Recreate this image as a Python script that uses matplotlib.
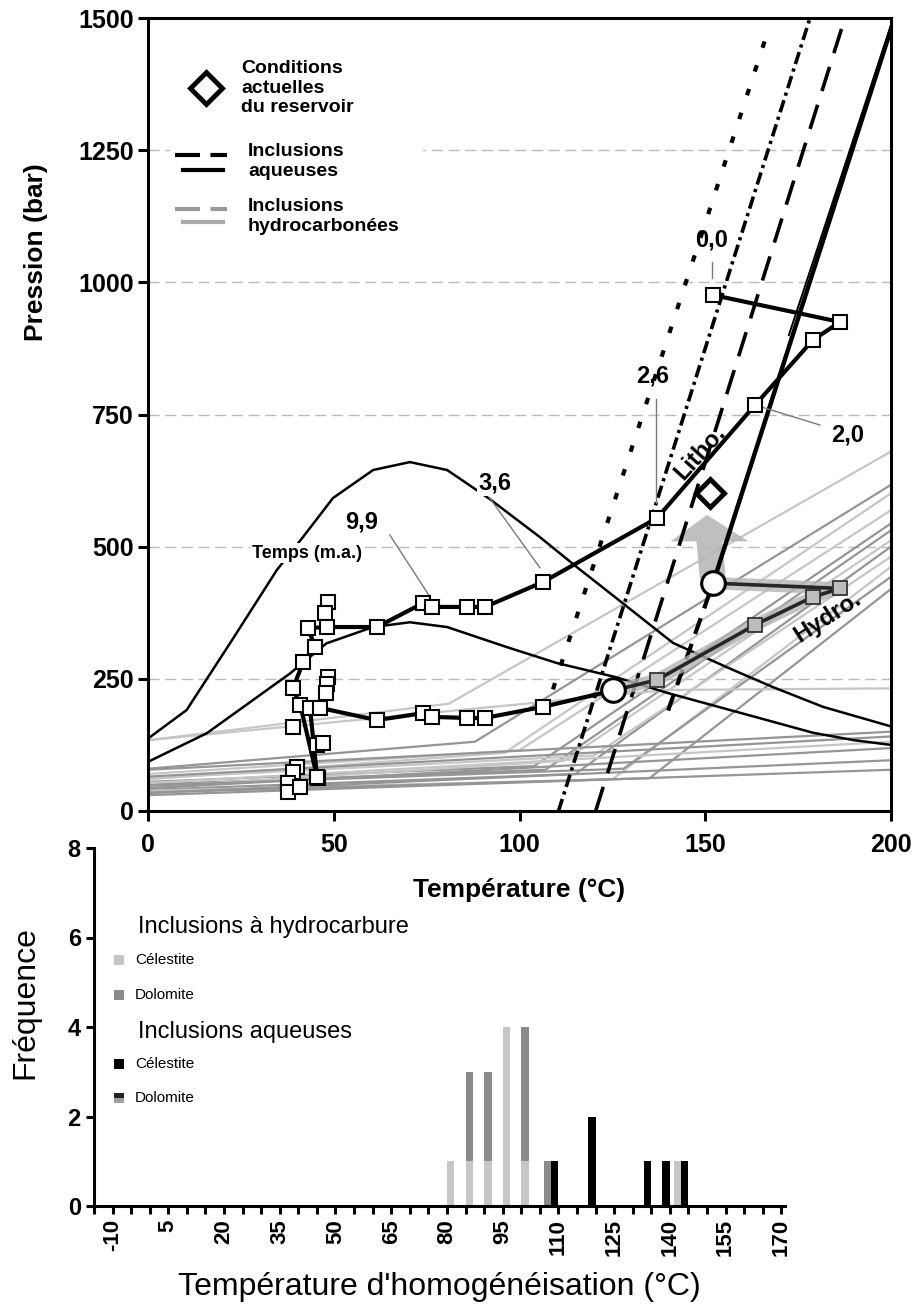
import matplotlib
matplotlib.use("Agg")
import matplotlib.pyplot as plt
from matplotlib.patches import Rectangle, FancyArrow

plt.rcParams['font.family'] = ['Liberation Sans', 'DejaVu Sans']

# ---------------- top panel : P-T diagram ----------------
# thin black curves (burial envelope, "Temps (m.a.)")
outer_T = [0, 10.4, 22.6, 34.7, 41.7, 49.8, 60.6, 70.5, 80.5, 84.5, 92, 105.5, 115.5, 126, 141.3, 155.8, 168, 181.7, 200]
outer_P = [137, 191, 323, 456, 518, 592, 645, 660, 645, 626, 590, 518, 461, 403, 318, 272, 235, 197, 160]
inner_T = [0, 15.8, 38.2, 48, 60.6, 70.5, 80.5, 96.6, 110, 126, 140, 165, 179, 190, 200]
inner_P = [93, 147, 260, 317, 348, 357, 348, 310, 280, 253, 223, 175, 148, 134, 125]

# aqueous isochores (black)
iso_dot_T, iso_dot_P = [109, 166.5], [230, 1467]
iso_dashdot_T, iso_dashdot_P = [110.5, 178.2], [0, 1500]
iso_dash_T, iso_dash_P = [120.5, 187.6], [0, 1500]
iso_solid_T, iso_solid_P = [152.1, 200.5], [431, 1490]
iso_solid2_T, iso_solid2_P = [172.5, 200.5], [900, 1497]
iso_low_T, iso_low_P = [140, 152.1], [190, 431]

# hydrocarbon isochores (grey): start P at 0 C, kink (T, P), P at 200 C, shade
hc_P0 = [134, 80, 60, 70, 55, 50, 45, 40, 62, 38, 48, 35, 134, 78, 65, 53, 43, 34, 30]
hc_Tk = [81, 88, 96, 100, 104, 107, 112, 115, 120, 125, 128, 135, 140, 200, 200, 200, 200, 200, 200]
hc_Pk = [203, 131, 110, 115, 85, 78, 95, 70, 105, 60, 80, 62, 229, 150, 141, 131, 119, 96, 78]
hc_Pend = [680, 617, 601, 569, 544, 531, 512, 500, 481, 462, 443, 420, 232, 150, 141, 131, 119, 96, 78]
hc_shade = ['l', 'm', 'l', 'l', 'm', 'm', 'l', 'm', 'l', 'l', 'm', 'm', 'l', 'm', 'm', 'l', 'm', 'm', 'm']

# lithostatic / time paths (white squares)
upper_T = [45.5, 41.0, 39.0, 41.8, 45.0, 43.0, 48.2, 61.6, 74.0, 76.5, 85.8, 90.7, 106.3, 137.0, 163.4, 179.0, 186.3, 152.1]
upper_P = [65, 200, 232, 282, 311, 346, 348, 348, 393, 386, 386, 386, 433, 554, 768, 891, 925, 976]
lower_T = [45.5, 43.6, 46.3, 61.6, 74.0, 76.5, 85.8, 90.7, 106.3, 125.3]
lower_P = [65, 195, 195, 172, 185, 178, 176, 176, 197, 228]
extra_T = [48.5, 47.6, 48.5, 48.3, 48.0, 39.0, 45.5, 47.0, 40.0, 39.0, 37.7, 37.7, 45.8, 41.0]
extra_P = [396, 374, 254, 240, 224, 159, 125, 128, 84, 74, 53, 36, 62, 45]

# hydrostatic path (grey squares)
hydro_T = [125.3, 137.0, 163.4, 179.0, 186.3]
hydro_P = [228, 248, 352, 405, 421]
hydro_top_T = [152.1, 186.3]
hydro_top_P = [431, 421]
circle_T = [125.3, 152.1]
circle_P = [228, 431]
reservoir_T, reservoir_P = 151.3, 601

# ---------------- bottom panel : histogram ----------------
hc_cel_x = [81, 86, 91, 96, 101, 142]
hc_cel_n = [1, 1, 1, 4, 1, 1]
hc_dol_x = [86, 91, 101, 107]
hc_dol_n = [2, 2, 3, 1]
aq_cel_x = [109, 119, 134, 139, 144]
aq_cel_n = [1, 2, 1, 1, 1]

LIGHT = '#c6c6c6'
MID = '#959595'

W, H = 921, 1313
fig = plt.figure(figsize=(W / 100, H / 100), dpi=100)

ax = fig.add_axes([148 / W, 1 - 811 / H, 743 / W, 793 / H])
ax.set_xlim(0, 200)
ax.set_ylim(0, 1500)
for s in ax.spines.values():
    s.set_linewidth(2.2)
ax.set_xticks([0, 50, 100, 150, 200], labels=['0', '50', '100', '150', '200'],
              fontsize=18, fontweight='bold')
ax.set_yticks(range(0, 1501, 250), labels=[str(v) for v in range(0, 1501, 250)],
              fontsize=18, fontweight='bold')
ax.tick_params(axis='both', length=7, width=2.2, direction='out')
ax.tick_params(axis='x', pad=9)
ax.tick_params(axis='y', pad=3)
ax.set_xlabel('Température (°C)', fontsize=19, fontweight='bold')
ax.xaxis.set_label_coords(0.5, -0.085)
ax.set_ylabel('Pression (bar)', fontsize=19, fontweight='bold')
ax.yaxis.set_label_coords(-0.135, 0.705)

for g in [250, 500, 750, 1000, 1250]:
    ax.axhline(g, color='#bbbbbb', lw=1.0, ls=(0, (8, 4)), zorder=0.5)

# white box behind the legend
ax.add_patch(Rectangle((6, 1050), 68, 430, facecolor='white', edgecolor='none', zorder=1))

# grey hydrocarbon isochores
for p0, tk, pk, pe, sh in zip(hc_P0, hc_Tk, hc_Pk, hc_Pend, hc_shade):
    ax.plot([0, tk, 200], [p0, pk, pe], color=LIGHT if sh == 'l' else MID, lw=1.6, zorder=2,
            solid_capstyle='butt')

# grey arrow
ax.add_patch(FancyArrow(152, 440, -1.5, 120, width=7, head_width=21, head_length=50,
                        length_includes_head=True, color='#b8b8b8', alpha=0.9, lw=0, zorder=2.5))

# thin black curves
ax.plot(outer_T, outer_P, color='black', lw=1.8, zorder=3)
ax.plot(inner_T, inner_P, color='black', lw=1.8, zorder=3)

# black isochores
ax.plot(iso_dot_T, iso_dot_P, color='black', lw=3, ls=(0, (1.6, 4.4)), zorder=3)
ax.plot(iso_dashdot_T, iso_dashdot_P, color='black', lw=2.6, ls=(0, (3.5, 1.3, 0.9, 1.3)), zorder=3)
ax.plot(iso_dash_T, iso_dash_P, color='black', lw=2.6, ls=(0, (7, 4)), zorder=3)
ax.plot(iso_solid_T, iso_solid_P, color='black', lw=3.2, zorder=3)
ax.plot(iso_solid2_T, iso_solid2_P, color='black', lw=1.4, zorder=3)
ax.plot(iso_low_T, iso_low_P, color='black', lw=3, ls=(0, (4, 2.5)), zorder=3)

# grey band + hydrostatic path
ax.plot(hydro_T, hydro_P, color='#b5b5b5', lw=9, alpha=0.8, zorder=3.2, solid_capstyle='round')
ax.plot(hydro_top_T, hydro_top_P, color='#b5b5b5', lw=9, alpha=0.8, zorder=3.2)
ax.plot(hydro_T, hydro_P, color='#262626', lw=2.6, zorder=3.5)
ax.plot(hydro_top_T, hydro_top_P, color='#262626', lw=2.6, zorder=3.5)
ax.plot(hydro_T[1:], hydro_P[1:], ls='none', marker='s', ms=10, mfc='#bdbdbd', mec='#333333',
        mew=1.3, zorder=4.5)

# lithostatic paths with white squares
ax.plot(upper_T, upper_P, color='black', lw=3, zorder=4)
ax.plot(lower_T, lower_P, color='black', lw=3, zorder=4)
ax.plot(extra_T, extra_P, ls='none', marker='s', ms=10, mfc='white', mec='black', mew=1.5, zorder=5)
ax.plot(upper_T, upper_P, ls='none', marker='s', ms=10, mfc='white', mec='black', mew=1.5, zorder=5)
ax.plot(lower_T[:-1], lower_P[:-1], ls='none', marker='s', ms=10, mfc='white', mec='black',
        mew=1.5, zorder=5)
ax.plot(circle_T, circle_P, ls='none', marker='o', ms=17, mfc='white', mec='black', mew=2.2, zorder=6)
ax.plot([reservoir_T], [reservoir_P], ls='none', marker='D', ms=14, mfc='white', mec='black',
        mew=3.5, zorder=6)

# leader lines
leaders = [([65.1, 75.9], [522, 405]), ([92, 105.5], [592, 460]), ([136.7, 136.7], [779, 583]),
           ([151.8, 151.8], [1038, 1008]), ([163.4, 180.9], [768, 730])]
for lx, ly in leaders:
    ax.plot(lx, ly, color='#7a7a7a', lw=1.0, zorder=3.1)

lab = dict(fontsize=17, fontweight='bold', ha='center', va='center', zorder=7)
ax.text(93.4, 620, '3,6', bbox=dict(facecolor='white', edgecolor='none', pad=1), **lab)
ax.text(57.5, 547, '9,9', **lab)
ax.text(135.9, 823, '2,6', **lab)
ax.text(151.8, 1080, '0,0', **lab)
ax.text(188.4, 711, '2,0', **lab)
ax.text(42.8, 488, 'Temps (m.a.)', fontsize=13, fontweight='bold', ha='center', va='center',
        bbox=dict(facecolor='white', edgecolor='none', pad=1), zorder=7)
ax.text(148.6, 677, 'Litho.', fontsize=17, fontweight='bold', ha='center', va='center',
        rotation=48, zorder=7)
ax.text(182.8, 367, 'Hydro.', fontsize=17, fontweight='bold', ha='center', va='center',
        rotation=33, zorder=7)

# legend (drawn by hand)
ax.plot([15.6], [1367], ls='none', marker='D', ms=16, mfc='white', mec='black', mew=3.5, zorder=7)
ax.text(25.0, 1367, 'Conditions\nactuelles\ndu reservoir', fontsize=14, fontweight='bold',
        ha='left', va='center', linespacing=1.2, zorder=7)
ax.plot([7.3, 21.3], [1241, 1241], color='black', lw=3, ls=(0, (6, 2.5)), zorder=7)
ax.plot([9.4, 20.2], [1212, 1212], color='black', lw=3, zorder=7)
ax.text(26.9, 1228, 'Inclusions\naqueuses', fontsize=14, fontweight='bold',
        ha='left', va='center', linespacing=1.2, zorder=7)
ax.plot([7.3, 21.3], [1139, 1139], color='#999999', lw=3, ls=(0, (6, 2.5)), zorder=7)
ax.plot([9.4, 20.2], [1114, 1114], color='#aaaaaa', lw=3, zorder=7)
ax.text(26.9, 1124, 'Inclusions\nhydrocarbonées', fontsize=14, fontweight='bold',
        ha='left', va='center', linespacing=1.2, zorder=7)

# ---------------- histogram ----------------
ax2 = fig.add_axes([94 / W, 1 - 1206 / H, 691 / W, 358 / H])
ax2.patch.set_alpha(0)
ax2.set_xlim(-15, 171)
ax2.set_ylim(0, 8)
ax2.spines['top'].set_visible(False)
ax2.spines['right'].set_visible(False)
ax2.spines['left'].set_linewidth(2.2)
ax2.spines['bottom'].set_linewidth(2.2)

cel_lookup = dict(zip(hc_cel_x, hc_cel_n))
ax2.bar(hc_cel_x, hc_cel_n, width=2, color=LIGHT, zorder=2)
ax2.bar(hc_dol_x, hc_dol_n, width=2, bottom=[cel_lookup.get(x, 0) for x in hc_dol_x],
        color='#8a8a8a', zorder=2)
ax2.bar(aq_cel_x, aq_cel_n, width=2, color='black', zorder=2)

xt = list(range(-15, 171, 5))
ax2.set_xticks(xt, labels=[str(t) if (t + 10) % 15 == 0 else '' for t in xt],
               rotation=90, fontsize=16, fontweight='bold')
ax2.set_yticks([0, 2, 4, 6, 8], labels=['0', '2', '4', '6', '8'], fontsize=17, fontweight='bold')
ax2.tick_params(axis='both', length=6, width=2.2, direction='out')
ax2.set_ylabel('Fréquence', fontsize=23)
ax2.yaxis.set_label_coords(-0.078, 0.567)
ax2.set_xlabel("Température d'homogénéisation (°C)", fontsize=23)
ax2.xaxis.set_label_coords(0.5, -0.185)

# histogram legend
ax2.text(-3.1, 6.23, 'Inclusions à hydrocarbure', fontsize=17, ha='left', va='center')
ax2.text(-3.1, 3.89, 'Inclusions aqueuses', fontsize=17, ha='left', va='center')
for yy, name, col in [(5.50, 'Célestite', LIGHT), (4.72, 'Dolomite', '#8a8a8a'),
                      (3.17, 'Célestite', 'black')]:
    ax2.add_patch(Rectangle((-9.7, yy - 0.11), 2.7, 0.22, facecolor=col, edgecolor='none'))
    ax2.text(-3.9, yy, name, fontsize=11, ha='left', va='center')
ax2.add_patch(Rectangle((-9.7, 2.41), 2.7, 0.11, facecolor='#222222', edgecolor='none'))
ax2.add_patch(Rectangle((-9.7, 2.30), 2.7, 0.11, facecolor='#a0a0a0', edgecolor='none'))
ax2.text(-3.9, 2.41, 'Dolomite', fontsize=11, ha='left', va='center')

fig.savefig('out.png', dpi=100)
